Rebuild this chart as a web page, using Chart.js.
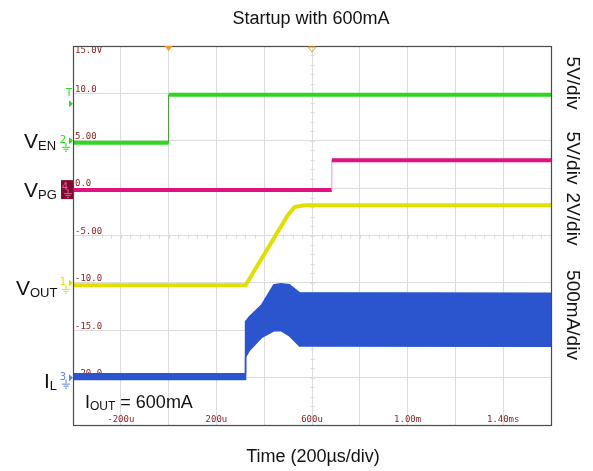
<!DOCTYPE html>
<html>
<head>
<meta charset="utf-8">
<script src="https://cdn.jsdelivr.net/npm/chart.js@4.4.1/dist/chart.umd.min.js"></script>
<style>
html,body{margin:0;padding:0;background:#fff;}
#wrap{width:593px;height:471px;position:relative;}
</style>
</head>
<body>
<div id="wrap"><canvas id="c" width="593" height="471"></canvas></div>
<script>
// ---- data (time in µs, values in screen volts) ----
const chartTitle = 'Startup with 600mA';
const xAxisTitle = 'Time (200µs/div)';
const xTickValues = [-200, 200, 600, 1000, 1400];
const xTickLabels = ['-200u', '200u', '600u', '1.00m', '1.40ms'];
const yTickValues = [15, 10, 5, 0, -5, -10, -15, -20];
const yTickLabels = ['15.0V', '10.0', '5.00', '0.0', '-5.00', '-10.0', '-15.0', '-20.0'];
const scaleLabels = ['5V/div', '5V/div', '2V/div', '500mA/div'];

const venTime  = [-400, 0, 0, 1600];
const venValue = [4.8, 4.8, 9.85, 9.85];
const vpgTime  = [-400, 683, 683, 1600];
const vpgValue = [-0.2, -0.2, 2.95, 2.95];
const voutTime  = [-400, 322, 498, 527, 569, 1600];
const voutValue = [-10.25, -10.25, -2.9, -2.0, -1.8, -1.8];
const ilTime  = [-400, 322, 322, 339, 390, 440, 470, 506, 548, 1600];
const ilUpper = [-19.6, -19.6, -14.1, -13.55, -12.3, -10.2, -10.1, -10.2, -11.05, -11.1];
const ilLower = [-20.2, -20.2, -17.8, -17.1, -15.75, -15.05, -15.05, -15.6, -16.65, -16.7];

const toPts = (xs, ys) => xs.map((x, i) => ({x: x, y: ys[i]}));
const vertThin = (w) => ctx => ctx.p0.parsed.x === ctx.p1.parsed.x ? 1 : w;

const GREEN = '#2ed81f', PINK = '#e2117f', YELLOW = '#e0df00', BLUE = '#2a55cf';
const TICKCOL = '#8b2323';

const overlay = {
  id: 'overlay',
  beforeDatasetsDraw(chart) {
    const {ctx, chartArea: a, scales: {x, y}} = chart;
    ctx.save();
    // minor ticks on the centre lines
    ctx.strokeStyle = '#dadada';
    ctx.lineWidth = 1;
    const cx = Math.round(x.getPixelForValue(600)) + 0.5;
    const cy = Math.round(y.getPixelForValue(-5)) + 0.5;
    for (let v = -25; v <= 15; v += 1) {
      const py = Math.round(y.getPixelForValue(v)) + 0.5;
      ctx.beginPath(); ctx.moveTo(cx - 2, py); ctx.lineTo(cx + 2, py); ctx.stroke();
    }
    for (let t = -400; t <= 1600; t += 40) {
      const px = Math.round(x.getPixelForValue(t)) + 0.5;
      ctx.beginPath(); ctx.moveTo(px, cy - 2); ctx.lineTo(px, cy + 2); ctx.stroke();
    }
    // tick labels inside the plot
    ctx.fillStyle = TICKCOL;
    ctx.font = '9px "DejaVu Sans Mono", monospace';
    ctx.textBaseline = 'middle';
    ctx.textAlign = 'left';
    yTickValues.forEach((v, i) => {
      let py = y.getPixelForValue(v);
      py = (i === 0) ? py + 5 : py - 4;
      ctx.fillText(yTickLabels[i], a.left + 2, py);
    });
    ctx.textAlign = 'center';
    xTickValues.forEach((t, i) => {
      ctx.fillText(xTickLabels[i], x.getPixelForValue(t), a.bottom - 5);
    });
    ctx.restore();
  },
  afterDraw(chart) {
    const {ctx, chartArea: a, scales: {x, y}} = chart;
    ctx.save();
    // frame
    ctx.strokeStyle = '#4a4a4a';
    ctx.lineWidth = 1.2;
    ctx.strokeRect(a.left + 0.5, a.top + 0.5, a.right - a.left, a.bottom - a.top);

    // trigger markers at top
    const tx = x.getPixelForValue(0);
    ctx.fillStyle = '#f39a1c';
    ctx.beginPath(); ctx.moveTo(tx - 4, a.top); ctx.lineTo(tx + 4, a.top); ctx.lineTo(tx, a.top + 5); ctx.closePath(); ctx.fill();
    const mx = x.getPixelForValue(600);
    ctx.strokeStyle = '#f39a1c'; ctx.lineWidth = 1;
    ctx.beginPath(); ctx.moveTo(mx - 4, a.top + 1); ctx.lineTo(mx + 4, a.top + 1); ctx.lineTo(mx, a.top + 6); ctx.closePath(); ctx.stroke();

    // channel markers at the left edge
    const L = a.left;
    const gnd = (gx, gy, col) => {
      ctx.strokeStyle = col; ctx.lineWidth = 1;
      ctx.beginPath();
      ctx.moveTo(gx, gy); ctx.lineTo(gx, gy + 4);
      ctx.moveTo(gx - 4, gy + 4.5); ctx.lineTo(gx + 4, gy + 4.5);
      ctx.moveTo(gx - 2.5, gy + 6.5); ctx.lineTo(gx + 2.5, gy + 6.5);
      ctx.moveTo(gx - 1, gy + 8.5); ctx.lineTo(gx + 1, gy + 8.5);
      ctx.stroke();
    };
    const arrow = (py, col) => {
      ctx.fillStyle = col;
      ctx.beginPath(); ctx.moveTo(L - 4, py - 3.5); ctx.lineTo(L, py); ctx.lineTo(L - 4, py + 3.5); ctx.closePath(); ctx.fill();
    };
    ctx.font = '10px "DejaVu Sans", sans-serif';
    ctx.textBaseline = 'middle';
    ctx.textAlign = 'center';
    // trigger level
    let py = y.getPixelForValue(9.85);
    ctx.fillStyle = GREEN; ctx.fillText('T', L - 4, py - 1);
    arrow(py + 9, GREEN);
    // ch2
    py = y.getPixelForValue(5);
    ctx.fillStyle = GREEN; ctx.fillText('2', L - 10, py);
    arrow(py, GREEN); gnd(L - 7, py + 2, GREEN);
    // ch4
    py = y.getPixelForValue(0);
    ctx.fillStyle = '#7d0b2e'; ctx.fillRect(L - 12, py - 8, 12, 19);
    ctx.fillStyle = '#e85c9c'; ctx.fillText('4', L - 8, py - 1);
    gnd(L - 5, py + 1, '#e85c9c');
    // ch1
    py = y.getPixelForValue(-10);
    ctx.fillStyle = YELLOW; ctx.fillText('1', L - 10, py);
    arrow(py, YELLOW); gnd(L - 7, py + 2, YELLOW);
    // ch3
    py = y.getPixelForValue(-20);
    ctx.fillStyle = '#5b84e8'; ctx.fillText('3', L - 10, py);
    arrow(py, '#5b84e8'); gnd(L - 7, py + 2, '#5b84e8');

    // titles
    ctx.fillStyle = '#111';
    ctx.textBaseline = 'alphabetic';
    ctx.textAlign = 'center';
    ctx.font = '18px "Liberation Sans", Arial, sans-serif';
    ctx.fillText(chartTitle, 311, 24);
    ctx.fillText(xAxisTitle, 313, 462);

    // left signal names with subscripts
    const named = (main, sub, lx, base) => {
      ctx.textAlign = 'left';
      ctx.font = '21px "Liberation Sans", Arial, sans-serif';
      ctx.fillText(main, lx, base);
      const w = ctx.measureText(main).width;
      ctx.font = '13px "Liberation Sans", Arial, sans-serif';
      ctx.fillText(sub, lx + w, base + 1.5);
    };
    named('V', 'EN', 24, 148);
    named('V', 'PG', 24, 197);
    named('V', 'OUT', 16, 295);
    named('I', 'L', 44, 388);

    // IOUT note
    ctx.textAlign = 'left';
    ctx.font = '18px "Liberation Sans", Arial, sans-serif';
    ctx.fillText('I', 85, 408);
    let w1 = ctx.measureText('I').width;
    ctx.font = '12px "Liberation Sans", Arial, sans-serif';
    ctx.fillText('OUT', 85 + w1, 410);
    let w2 = ctx.measureText('OUT').width;
    ctx.font = '18px "Liberation Sans", Arial, sans-serif';
    ctx.fillText(' = 600mA', 85 + w1 + w2, 408);

    // right side per-division labels (rotated)
    const centers = [83, 158, 219, 315];
    ctx.font = '19px "Liberation Sans", Arial, sans-serif';
    ctx.textAlign = 'center';
    ctx.textBaseline = 'middle';
    scaleLabels.forEach((s, i) => {
      ctx.save();
      ctx.translate(572, centers[i]);
      ctx.rotate(Math.PI / 2);
      ctx.fillText(s, 0, 0);
      ctx.restore();
    });
    ctx.restore();
  }
};

new Chart(document.getElementById('c'), {
  type: 'line',
  data: {
    datasets: [
      { label: 'VEN', data: toPts(venTime, venValue), borderColor: GREEN, borderWidth: 4,
        segment: { borderWidth: vertThin(4), borderColor: c => c.p0.parsed.x === c.p1.parsed.x ? '#3a9a2a' : GREEN } },
      { label: 'VPG', data: toPts(vpgTime, vpgValue), borderColor: PINK, borderWidth: 4,
        segment: { borderWidth: vertThin(4), borderColor: c => c.p0.parsed.x === c.p1.parsed.x ? '#ef9ac4' : PINK } },
      { label: 'VOUT', data: toPts(voutTime, voutValue), borderColor: YELLOW, borderWidth: 4 },
      { label: 'IL upper', data: toPts(ilTime, ilUpper), borderColor: BLUE, borderWidth: 1.5,
        backgroundColor: BLUE, fill: '+1' },
      { label: 'IL lower', data: toPts(ilTime, ilLower), borderColor: BLUE, borderWidth: 1.5, fill: false }
    ]
  },
  options: {
    responsive: false,
    animation: false,
    events: [],
    layout: { padding: { left: 73, right: 42, top: 46, bottom: 46 } },
    elements: { point: { radius: 0 }, line: { tension: 0, borderJoinStyle: 'round' } },
    plugins: { legend: { display: false }, tooltip: { enabled: false }, title: { display: false } },
    scales: {
      x: { type: 'linear', min: -400, max: 1600,
           ticks: { display: false, stepSize: 200 },
           grid: { color: '#dcdcdc', drawTicks: false, lineWidth: 1 },
           border: { display: false } },
      y: { type: 'linear', min: -25, max: 15,
           ticks: { display: false, stepSize: 5 },
           grid: { color: '#dcdcdc', drawTicks: false, lineWidth: 1 },
           border: { display: false } }
    }
  },
  plugins: [overlay]
});
</script>
</body>
</html>
